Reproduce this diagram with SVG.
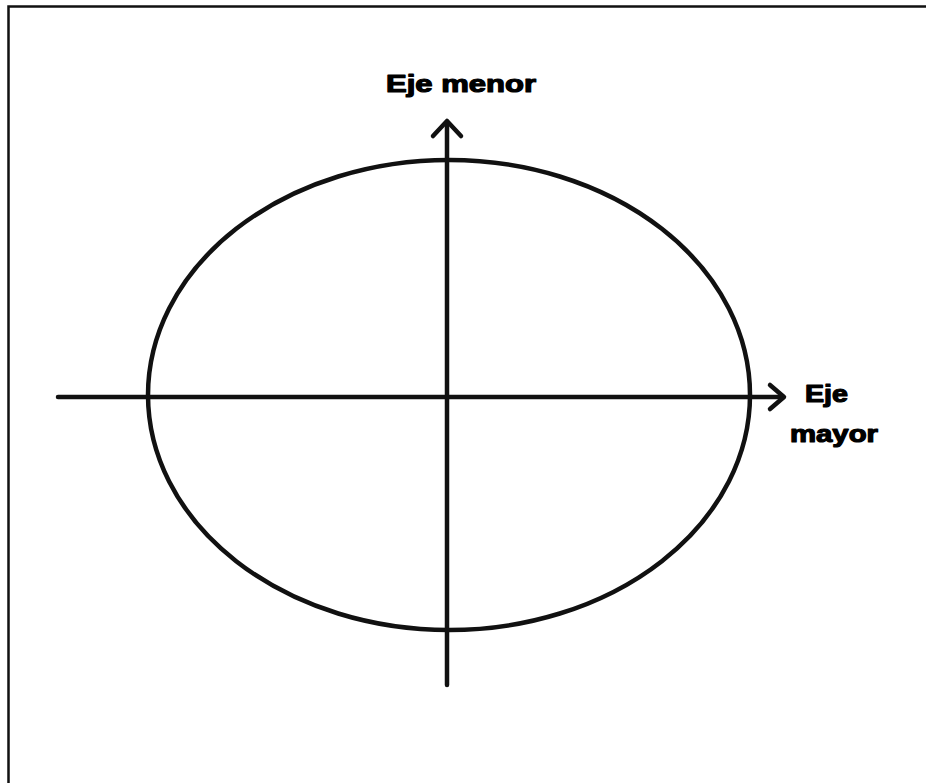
<svg xmlns="http://www.w3.org/2000/svg" width="926" height="783" viewBox="0 0 926 783">
<style>
.ln{stroke:#111;stroke-width:4.5;fill:none;stroke-linecap:round;stroke-linejoin:round}
.lb{font-family:"Liberation Sans",Arial,sans-serif;font-weight:bold;font-size:24px;fill:#000;stroke:#000;stroke-width:1.2;stroke-linejoin:round}
</style>
<rect width="926" height="783" fill="#fff"/>
<path d="M8.5 783V6.5H926" stroke="#111" stroke-width="2.5" fill="none"/>
<g id="ellipse"><ellipse class="ln" cx="449" cy="395" rx="301" ry="235"/></g>
<g id="connectors">
<path class="ln" d="M58 397H783"/>
<path class="ln" d="M770 385L784 397L770 409"/>
<path class="ln" d="M447 685V122"/>
<path class="ln" d="M433 136L447 121L461 136"/>
</g>
<g id="label-menor"><text class="lb" x="386" y="92" textLength="150" lengthAdjust="spacingAndGlyphs">Eje menor</text></g>
<g id="label-mayor"><text class="lb" x="805" y="402" textLength="43" lengthAdjust="spacingAndGlyphs">Eje</text><text class="lb" x="790" y="442" textLength="88" lengthAdjust="spacingAndGlyphs">mayor</text></g>
</svg>
